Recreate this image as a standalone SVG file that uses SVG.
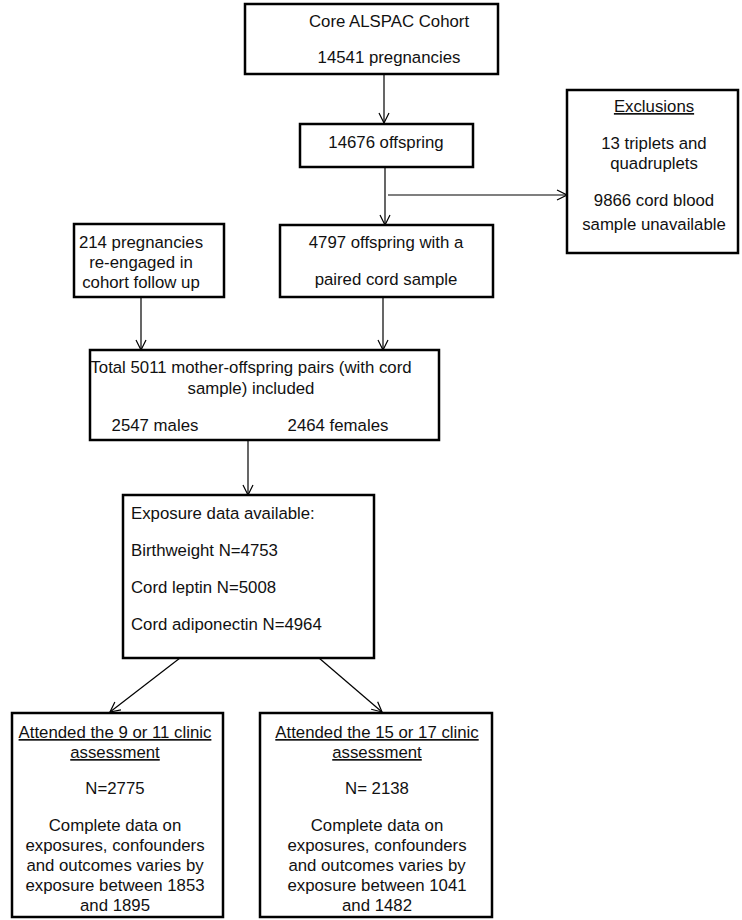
<svg xmlns="http://www.w3.org/2000/svg" width="742" height="920" viewBox="0 0 742 920">
<defs>
<style>
.box{fill:#fff;stroke:#000;stroke-width:2.5}
.t{font-family:"Liberation Sans",Arial,sans-serif;font-size:16.8px;fill:#111;text-anchor:middle}
.l{text-anchor:start}
.u{text-decoration:underline}
.c{stroke:#000;stroke-width:1.2;fill:none}
</style>
<marker id="ah" viewBox="0 0 12 12" refX="11" refY="6" markerWidth="12" markerHeight="12" markerUnits="userSpaceOnUse" orient="auto">
<path d="M1,1 L11,6 L1,11" fill="none" stroke="#000" stroke-width="1.2"/>
</marker>
</defs>
<rect width="742" height="920" fill="#fff"/>
<g id="connectors">
<line class="c" x1="384" y1="75" x2="384" y2="123" marker-end="url(#ah)"/>
<line class="c" x1="385" y1="167" x2="385" y2="225" marker-end="url(#ah)"/>
<line class="c" x1="388" y1="195" x2="567" y2="195" marker-end="url(#ah)"/>
<line class="c" x1="141" y1="297" x2="141" y2="350" marker-end="url(#ah)"/>
<line class="c" x1="383" y1="297" x2="383" y2="350" marker-end="url(#ah)"/>
<line class="c" x1="248" y1="440" x2="248" y2="495" marker-end="url(#ah)"/>
<line class="c" x1="180" y1="658" x2="110" y2="712" marker-end="url(#ah)"/>
<line class="c" x1="319" y1="658" x2="382" y2="712" marker-end="url(#ah)"/>
</g>
<g id="core">
<rect class="box" x="245" y="4" width="253" height="70"/>
<text class="t" x="389" y="27">Core ALSPAC Cohort</text>
<text class="t" x="389" y="63">14541 pregnancies</text>
</g>
<g id="offspring">
<rect class="box" x="300" y="124" width="173" height="43"/>
<text class="t" x="386" y="148">14676 offspring</text>
</g>
<g id="exclusions">
<rect class="box" x="567" y="90" width="171" height="163"/>
<text class="t u" x="654" y="112">Exclusions</text>
<text class="t" x="654" y="149">13 triplets and</text>
<text class="t" x="654" y="169">quadruplets</text>
<text class="t" x="654" y="206">9866 cord blood</text>
<text class="t" x="654" y="230">sample unavailable</text>
</g>
<g id="paired">
<rect class="box" x="280" y="225" width="213" height="72"/>
<text class="t" x="386" y="248">4797 offspring with a</text>
<text class="t" x="386" y="285">paired cord sample</text>
</g>
<g id="reengaged">
<rect class="box" x="74" y="224" width="150" height="73"/>
<text class="t" x="141" y="248">214 pregnancies</text>
<text class="t" x="141" y="268">re-engaged in</text>
<text class="t" x="141" y="288">cohort follow up</text>
</g>
<g id="total">
<rect class="box" x="90" y="350" width="349" height="90"/>
<text class="t" x="251" y="373">Total 5011 mother-offspring pairs (with cord</text>
<text class="t" x="251" y="394">sample) included</text>
<text class="t" x="155" y="431">2547 males</text>
<text class="t" x="338" y="431">2464 females</text>
</g>
<g id="exposure">
<rect class="box" x="123" y="495" width="251" height="163"/>
<text class="t l" x="131" y="519">Exposure data available:</text>
<text class="t l" x="131" y="556">Birthweight N=4753</text>
<text class="t l" x="131" y="593">Cord leptin N=5008</text>
<text class="t l" x="131" y="630">Cord adiponectin N=4964</text>
</g>
<g id="clinic9">
<rect class="box" x="12" y="713" width="211" height="204"/>
<text class="t u" x="115" y="738">Attended the 9 or 11 clinic</text>
<text class="t u" x="115" y="758">assessment</text>
<text class="t" x="115" y="794">N=2775</text>
<text class="t" x="115" y="831">Complete data on</text>
<text class="t" x="115" y="851">exposures, confounders</text>
<text class="t" x="115" y="871">and outcomes varies by</text>
<text class="t" x="115" y="891">exposure between 1853</text>
<text class="t" x="115" y="911">and 1895</text>
</g>
<g id="clinic15">
<rect class="box" x="260" y="713" width="232" height="204"/>
<text class="t u" x="377" y="738">Attended the 15 or 17 clinic</text>
<text class="t u" x="377" y="758">assessment</text>
<text class="t" x="377" y="794">N= 2138</text>
<text class="t" x="377" y="831">Complete data on</text>
<text class="t" x="377" y="851">exposures, confounders</text>
<text class="t" x="377" y="871">and outcomes varies by</text>
<text class="t" x="377" y="891">exposure between 1041</text>
<text class="t" x="377" y="911">and 1482</text>
</g>
</svg>
